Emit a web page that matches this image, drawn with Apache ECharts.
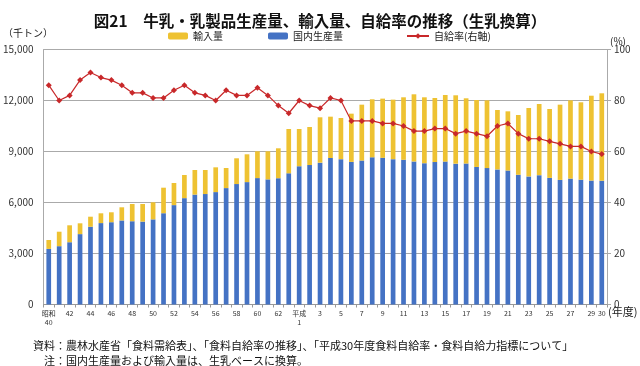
<!DOCTYPE html>
<html><head><meta charset="utf-8">
<script src="https://cdn.jsdelivr.net/npm/echarts@6/dist/echarts.min.js"></script>
<style>html,body{margin:0;padding:0;background:#fff}#c{width:640px;height:366px}</style>
</head><body><div id="c"></div>
<script>
var categories = ['昭和\n40','41','42','43','44','45','46','47','48','49','50','51','52','53','54','55','56','57','58','59','60','61','62','63',
  '平成\n1','2','3','4','5','6','7','8','9','10','11','12','13','14','15','16','17','18','19','20','21','22','23','24','25','26','27','28','29','30'];
var xTickLabels = ['昭和\n40','42','44','46','48','50','52','54','56','58','60','62','平成\n1','3','5','7','9','11','13','15','17','19','21','23','25','27','29','30'];
var domestic = [3271,3431,3663,4140,4575,4789,4841,4944,4898,4876,5008,5369,5846,6256,6464,6498,6612,6848,7086,7200,7436,7360,7428,7717,
  8134,8203,8343,8617,8550,8388,8467,8659,8629,8549,8513,8414,8312,8380,8405,8284,8293,8091,8024,7946,7881,7631,7534,7608,7448,7331,7407,7342,7291,7282];
var imports = [523,851,996,636,590,576,583,774,1014,1036,1004,1502,1301,1362,1448,1414,1457,1181,1514,1635,1576,1652,1760,2607,
  2190,2238,2669,2432,2421,2838,3288,3412,3481,3502,3675,3951,3876,3767,3919,4022,3836,3938,3986,3495,3482,3516,4025,4186,4052,4424,4603,4552,4991,5142];
var selfRate = [86,80,82,88,91,89,88,86,83,83,81,81,84,86,83,82,80,84,82,82,85,82,78,75,
  80,78,77,81,80,72,72,72,71,71,70,68,68,69,69,67,68,67,66,70,71,67,65,65,64,63,62,62,60,59];
var leftTicks = {min:0, max:15000, interval:3000};
var rightTicks = {min:0, max:100, interval:20};

var FONT = '"Noto Sans CJK JP","Noto Sans",sans-serif';
var shown = {};
xTickLabels.forEach(function(l){ shown[l] = true; });
function fmt(v){ return String(v).replace(/\B(?=(\d{3})+(?!\d))/g, ','); }

var chart = echarts.init(document.getElementById('c'), null, {renderer:'canvas'});
chart.setOption({
  animation:false,
  textStyle:{fontFamily:FONT},
  title:{text:'図21　牛乳・乳製品生産量、輸入量、自給率の推移（生乳換算）', left:'center', top:8,
    textStyle:{fontFamily:FONT, fontSize:15.5, fontWeight:'bold', color:'#111'}},
  legend:[
    {data:['輸入量'], left:163, top:26, itemWidth:20, itemHeight:7, textStyle:{fontSize:10, color:'#222'}},
    {data:['国内生産量'], left:263, top:26, itemWidth:20, itemHeight:7, textStyle:{fontSize:10, color:'#222'}},
    {data:['自給率(右軸)'], left:401, top:26, itemWidth:22, itemHeight:7, textStyle:{fontSize:10, color:'#222'}}
  ],
  grid:{left:38, right:33, top:49.5, bottom:61.5},
  xAxis:{type:'category', data:categories,
    axisLine:{lineStyle:{color:'#999'}},
    axisTick:{show:true, interval:0, length:3, lineStyle:{color:'#999'}},
    axisLabel:{interval:0, fontSize:7, color:'#333', lineHeight:9, margin:4,
      formatter:function(v){ return shown[v] ? v : ''; }}},
  yAxis:[
    {type:'value', min:leftTicks.min, max:leftTicks.max, interval:leftTicks.interval,
      axisLine:{show:true, lineStyle:{color:'#aaa'}}, axisTick:{show:false},
      splitLine:{lineStyle:{color:'#aaa', width:1}},
      axisLabel:{fontSize:10, color:'#333', margin:10, formatter:fmt}},
    {type:'value', min:rightTicks.min, max:rightTicks.max, interval:rightTicks.interval,
      axisLine:{show:true, lineStyle:{color:'#aaa'}}, axisTick:{show:true, length:4, lineStyle:{color:'#aaa'}},
      splitLine:{show:false},
      axisLabel:{fontSize:10, color:'#333', margin:7}}
  ],
  series:[
    {name:'国内生産量', type:'bar', stack:'t', data:domestic, barWidth:'45%', itemStyle:{color:'#4472C4'}},
    {name:'輸入量', type:'bar', stack:'t', data:imports, barWidth:'45%', itemStyle:{color:'#EEC232'}},
    {name:'自給率(右軸)', type:'line', yAxisIndex:1, data:selfRate, symbol:'diamond', symbolSize:6,
      lineStyle:{color:'#C8282A', width:1.2}, itemStyle:{color:'#C8282A'}}
  ],
  graphic:[
    {type:'text', left:3, top:28, style:{text:'（千トン）', font:'10px '+FONT, fill:'#222'}},
    {type:'text', left:610, top:36, style:{text:'(%)', font:'10px '+FONT, fill:'#222'}},
    {type:'text', left:608, top:306, style:{text:'(年度)', font:'11px '+FONT, fill:'#222'}},
    {type:'text', left:33, top:340, style:{text:'資料：農林水産省「食料需給表」、「食料自給率の推移」、「平成30年度食料自給率・食料自給力指標について」', font:'11px '+FONT, fill:'#111'}},
    {type:'text', left:44, top:355, style:{text:'注：国内生産量および輸入量は、生乳ベースに換算。', font:'11px '+FONT, fill:'#111'}}
  ]
});
</script></body></html>
